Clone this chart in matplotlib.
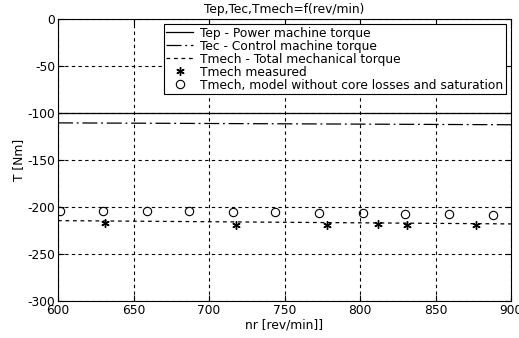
import numpy as np
import matplotlib
matplotlib.use("Agg")
import matplotlib.pyplot as plt

plt.rcParams['font.family'] = ['DejaVu Sans']
plt.rcParams['axes.unicode_minus'] = False

# line data (speed range and torques)
speed_line = [600, 900]
tep_line = [-100, -100]
tec_line = [-110.5, -112.5]
tmech_line = [-214.5, -218]

# measured mechanical torque
speed_meas = [631, 718, 778, 812, 831, 877]
tmech_meas = [-217, -219.5, -219.5, -218, -219.5, -219]

# model without core losses and saturation
speed_model = [601, 630, 659, 687, 716, 744, 773, 802, 830, 859, 888]
tmech_model = [-204, -204.5, -204.5, -204.5, -205.3, -205.5, -206, -206, -207, -207, -208]

fs = 8.8

fig = plt.figure(figsize=(5.19, 3.38), dpi=100, facecolor='w')
ax = fig.add_axes([58 / 519, 37 / 338, 453 / 519, 282 / 338])

ax.plot(speed_line, tep_line, color='k', linewidth=0.9, label="Tep - Power machine torque")
ax.plot(speed_line, tec_line, color='k', linewidth=0.9, dashes=(12, 3, 1.5, 3),
        label="Tec - Control machine torque")
ax.plot(speed_line, tmech_line, color='k', linewidth=0.9, linestyle='--', dashes=(3, 3),
        label="Tmech - Total mechanical torque")
ax.plot(speed_meas, tmech_meas, linestyle='none', marker=(6, 2, 0), color='k', markersize=6,
        markeredgewidth=1.0, label="Tmech measured")
ax.plot(speed_model, tmech_model, linestyle='none', marker='o', markerfacecolor='none',
        markeredgecolor='k', markersize=6, markeredgewidth=0.8,
        label="Tmech, model without core losses and saturation")

ax.set_xlim(600, 900)
ax.set_ylim(-300, 0)
ax.set_xticks(np.arange(600, 901, 50))
ax.set_yticks(np.arange(-300, 1, 50))
ax.grid(True, color='k', linestyle='--', linewidth=0.8, dashes=(3, 3))
ax.tick_params(direction='in', top=True, right=True, labelsize=fs, length=4, width=0.8, pad=2)
for s in ax.spines.values():
    s.set_linewidth(0.8)

ax.set_title("Tep,Tec,Tmech=f(rev/min)", fontsize=fs, pad=4)
ax.set_xlabel("nr [rev/min]]", fontsize=fs, labelpad=1)
ax.set_ylabel("T [Nm]", fontsize=fs, labelpad=2)

leg = ax.legend(loc='upper right', bbox_to_anchor=(0.989, 0.982), fontsize=fs, frameon=True,
                fancybox=False, edgecolor='k', framealpha=1, borderpad=0.2, labelspacing=0.0,
                handlelength=2.2, handletextpad=0.6, borderaxespad=0)
leg.get_frame().set_linewidth(0.8)

fig.savefig("out.png", dpi=100)
